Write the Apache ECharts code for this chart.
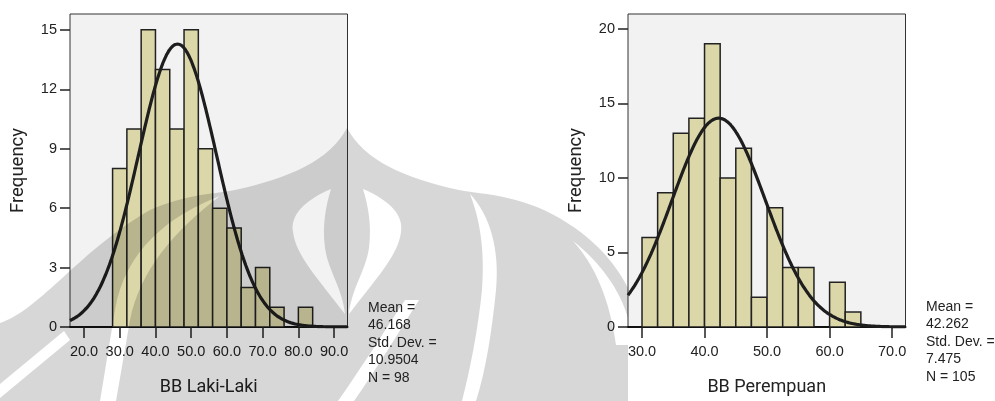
<!DOCTYPE html>
<html>
<head>
<meta charset="utf-8">
<script src="https://cdn.jsdelivr.net/npm/echarts@6/dist/echarts.min.js"></script>
<style>html,body{margin:0;padding:0;background:#fff;}#c{width:995px;height:401px;}</style>
</head>
<body>
<div id="c"></div>
<script>
// ---- Data ----
const leftTitle = 'BB Laki-Laki';
const leftBinLow = [28, 32, 36, 40, 44, 48, 52, 56, 60, 64, 68, 72, 76, 80];
const leftBinWidth = 4;
const leftCounts = [8, 10, 15, 13, 10, 15, 9, 6, 5, 2, 3, 1, 0, 1];
const leftMean = 46.168, leftSD = 10.9504, leftN = 98;
const leftStatText = ['Mean =', '46.168', 'Std. Dev. =', '10.9504', 'N = 98'];
const leftXTicks = [20, 30, 40, 50, 60, 70, 80, 90];
const leftYTicks = [0, 3, 6, 9, 12, 15];

const rightTitle = 'BB Perempuan';
const rightBinLow = [30, 32.5, 35, 37.5, 40, 42.5, 45, 47.5, 50, 52.5, 55, 57.5, 60, 62.5];
const rightBinWidth = 2.5;
const rightCounts = [6, 9, 13, 14, 19, 10, 12, 2, 8, 4, 4, 0, 3, 1];
const rightMean = 42.262, rightSD = 7.475, rightN = 105;
const rightStatText = ['Mean =', '42.262', 'Std. Dev. =', '7.475', 'N = 105'];
const rightXTicks = [30, 40, 50, 60, 70];
const rightYTicks = [0, 5, 10, 15, 20];

// axis extents
const leftXRange = [16.08, 93.75], leftYMax = 15.8;
const rightXRange = [27.76, 72.14], rightYMax = 21.0;

function binData(lows, w, counts) {
  return lows.map((l, i) => [l, l + w, counts[i]]);
}
// fitted normal curve drawn from the stated mean / std. dev. / N
function normalCurve(mean, sd, n, w, lo, hi) {
  const pts = [];
  const steps = 240;
  for (let i = 0; i <= steps; i++) {
    const x = lo + (hi - lo) * i / steps;
    const y = n * w / (sd * Math.sqrt(2 * Math.PI)) * Math.exp(-0.5 * Math.pow((x - mean) / sd, 2));
    pts.push([x, y]);
  }
  return pts;
}

const labelFont = 'Liberation Sans, Arial, sans-serif';
const titleFont = 'Roboto, Arial, sans-serif';

function renderBar(params, api) {
  const x0 = api.value(0), x1 = api.value(1), y = api.value(2);
  if (!y) return null;
  const p0 = api.coord([x0, y]);
  const p1 = api.coord([x1, 0]);
  return {
    type: 'rect',
    shape: { x: p0[0], y: p0[1], width: p1[0] - p0[0], height: p1[1] - p0[1] },
    style: { fill: '#dbd7a9', stroke: '#222', lineWidth: 1.5 }
  };
}

function xAxisCfg(idx, range, ticks, name) {
  return {
    type: 'value', gridIndex: idx, min: range[0], max: range[1],
    name: name, nameLocation: 'middle', nameGap: 51,
    nameTextStyle: { fontFamily: titleFont, fontSize: 18, fontWeight: 'normal', color: '#222' },
    axisLine: { show: true, lineStyle: { color: '#111', width: 2 } },
    axisTick: { show: true, customValues: ticks, length: 11, lineStyle: { color: '#222', width: 1.5 } },
    axisLabel: { customValues: ticks, formatter: v => Number(v).toFixed(1), fontFamily: labelFont, fontSize: 14.5, color: '#222', margin: 17 },
    splitLine: { show: false }
  };
}
function yAxisCfg(idx, max, ticks) {
  return {
    type: 'value', gridIndex: idx, min: 0, max: max,
    name: 'Frequency', nameLocation: 'middle', nameGap: 42,
    nameTextStyle: { fontFamily: titleFont, fontSize: 18.5, fontWeight: 'normal', color: '#222' },
    axisLine: { show: false },
    axisTick: { show: true, customValues: ticks, length: 10, lineStyle: { color: '#222', width: 1.5 } },
    axisLabel: { customValues: ticks, fontFamily: labelFont, fontSize: 14.5, color: '#222', margin: 13 },
    splitLine: { show: false }
  };
}

// background watermark (page decoration), approximated; holes wound the other way
const watermarkPath =
  'M0,401 L0,323 C40,310 80,250 150,210 C185,195 205,195 235,190 C290,178 330,160 347,128 ' +
  'C364,160 404,178 459,190 C489,195 509,195 544,210 C590,232 615,262 628,288 L628,401 Z ' +
  'M331,189 C305,200 290,215 293,232 C296,255 315,275 345,314 C343,290 328,270 325,248 C322,225 326,205 331,189 Z ' +
  'M363,189 C368,205 372,225 369,248 C366,270 351,290 349,314 C379,275 398,255 401,232 C404,215 389,200 363,189 Z ' +
  'M220,196 C170,215 125,250 115,310 L100,401 L116,401 L130,320 C140,270 175,230 220,196 Z ' +
  'M470,194 C480,220 485,250 482,290 C478,330 470,370 462,401 L476,401 C486,370 492,330 496,290 C500,250 490,215 470,194 Z ' +
  'M573,241 C595,265 610,300 616,345 L628,345 L628,318 C620,290 600,262 573,241 Z ' +
  'M0,384 L0,398 L70,340 L64,331 Z ' +
  'M405,300 C385,330 360,370 338,401 L354,401 C376,370 400,330 419,300 Z';

const chart = echarts.init(document.getElementById('c'), null, { renderer: 'canvas' });
chart.setOption({
  backgroundColor: '#ffffff',
  animation: false,
  grid: [
    { left: 70, top: 14, width: 277.5, height: 318, show: true, backgroundColor: '#f2f2f2', borderColor: '#333', borderWidth: 1 },
    { left: 628, top: 14, width: 277.5, height: 318, show: true, backgroundColor: '#f2f2f2', borderColor: '#333', borderWidth: 1 }
  ],
  xAxis: [
    xAxisCfg(0, leftXRange, leftXTicks, leftTitle),
    xAxisCfg(1, rightXRange, rightXTicks, rightTitle)
  ],
  yAxis: [
    yAxisCfg(0, leftYMax, leftYTicks),
    yAxisCfg(1, rightYMax, rightYTicks)
  ],
  series: [
    { type: 'custom', xAxisIndex: 0, yAxisIndex: 0, renderItem: renderBar, data: binData(leftBinLow, leftBinWidth, leftCounts), encode: { x: [0, 1], y: 2 }, clip: true },
    { type: 'line', xAxisIndex: 0, yAxisIndex: 0, data: normalCurve(leftMean, leftSD, leftN, leftBinWidth, leftXRange[0], leftXRange[1]), showSymbol: false, smooth: true, lineStyle: { color: '#1e1e1e', width: 3.2 }, z: 5 },
    { type: 'custom', xAxisIndex: 1, yAxisIndex: 1, renderItem: renderBar, data: binData(rightBinLow, rightBinWidth, rightCounts), encode: { x: [0, 1], y: 2 }, clip: true },
    { type: 'line', xAxisIndex: 1, yAxisIndex: 1, data: normalCurve(rightMean, rightSD, rightN, rightBinWidth, rightXRange[0], rightXRange[1]), showSymbol: false, smooth: true, lineStyle: { color: '#1e1e1e', width: 3.2 }, z: 5 },
    {
      type: 'custom', coordinateSystem: 'none', silent: true, z: 100, data: [0],
      renderItem: function () {
        return { type: 'path', shape: { pathData: watermarkPath }, style: { fill: 'rgba(0,0,0,0.155)' } };
      }
    }
  ],
  graphic: [
    { type: 'text', left: 368, top: 299, z: 110, style: { text: leftStatText.join('\n'), font: '14px ' + labelFont, lineHeight: 17.5, fill: '#222' } },
    { type: 'text', left: 926, top: 298, z: 110, style: { text: rightStatText.join('\n'), font: '14px ' + labelFont, lineHeight: 17.5, fill: '#222' } }
  ]
});
</script>
</body>
</html>
